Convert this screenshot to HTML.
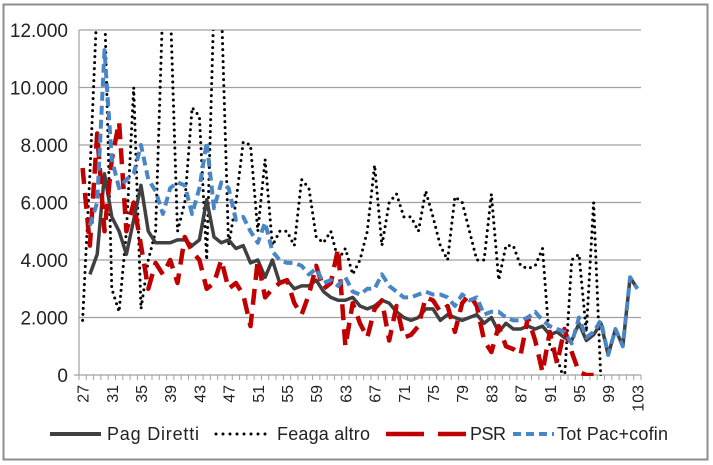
<!DOCTYPE html>
<html><head><meta charset="utf-8"><style>
html,body{margin:0;padding:0;background:#fff;}
svg{display:block;font-family:"Liberation Sans",sans-serif;}
</style></head><body>
<svg id="s" width="713" height="465" viewBox="0 0 713 465" xmlns="http://www.w3.org/2000/svg">
<rect x="0" y="0" width="713" height="465" fill="#fff"/>
<rect x="3.5" y="4.5" width="704" height="455" fill="none" stroke="#8c8c8c" stroke-width="2"/>
<defs><clipPath id="c"><rect x="79" y="30" width="562" height="346"/></clipPath></defs>
<g id="grid" stroke="#a0a0a0" stroke-width="1.2"></g>
<g id="ylab" font-size="19" fill="#222" text-anchor="end"></g>
<g id="xt" stroke="#a0a0a0" stroke-width="1"></g>
<g id="xlab" font-size="16" fill="#222"></g>
<g id="series" clip-path="url(#c)" fill="none" stroke-linejoin="round"></g>
<g font-size="18" fill="#222">
<line x1="50" y1="434" x2="101" y2="434" stroke="#404040" stroke-width="4"/>
<text x="107" y="440" textLength="92">Pag Diretti</text>
<line x1="216" y1="434" x2="268" y2="434" stroke="#000" stroke-width="3" stroke-dasharray="0,7" stroke-linecap="round"/>
<text x="277" y="440" textLength="93">Feaga altro</text>
<line x1="386" y1="434" x2="466" y2="434" stroke="#c00000" stroke-width="4.5" stroke-dasharray="38,14"/>
<text x="470" y="440" textLength="36">PSR</text>
<line x1="513" y1="434" x2="554" y2="434" stroke="#4a86c5" stroke-width="4" stroke-dasharray="8,5"/>
<text x="557" y="440" textLength="111">Tot Pac+cofin</text>
</g>
</svg>
<script>
var NS="http://www.w3.org/2000/svg";
function el(p,t,a,txt){var e=document.createElementNS(NS,t);for(var k in a)e.setAttribute(k,a[k]);if(txt!=null)e.textContent=txt;document.getElementById(p).appendChild(e);return e;}
var X0=79,X1=641,N=77,dx=(X1-X0)/N;
function Y(v){return 375-v/2000*57.5;}
function X(i){return X0+dx*(i+0.5);}
for(var v=0;v<=12000;v+=2000){
 var y=Y(v);
 if(v>0)el("grid","line",{x1:X0,x2:X1,y1:y,y2:y});
 el("ylab","text",{x:68,y:y+7},v==0?"0":(v/1000)+".000");
}
el("grid","line",{x1:X0,x2:X0,y1:30,y2:375});
el("grid","line",{x1:X0-5,x2:X1,y1:375,y2:375});
for(var i=0;i<=N;i++){var x=X0+dx*i;el("xt","line",{x1:x,x2:x,y1:375,y2:380});}
for(var i=0;i<N;i+=4){var x=X(i)+6,y=385;
 el("xlab","text",{x:x,y:y,transform:"rotate(-90 "+x+" "+y+")","text-anchor":"end"},String(27+i));}
var pag=[3500,4200,7000,5500,5000,4200,5400,6600,5000,4600,4600,4600,4700,4700,4500,4700,6100,4800,4600,4700,4400,4500,3900,4000,3400,4000,3200,3300,3000,3100,3100,3300,2900,2700,2600,2600,2700,2400,2300,2400,2600,2500,2200,2000,1900,2000,2300,2300,1900,2100,2000,1900,2000,2100,1800,2000,1500,1800,1600,1600,1700,1600,1700,1400,1500,1300,1200,1800,1200,1400,1800,700,1600,1000,3400,3000];
var fea=[1900,7000,13000,13000,3000,2200,5000,10000,2300,4000,5000,13000,13000,5000,6000,9300,9000,4000,13000,13000,4500,6000,8100,8000,5000,7500,4500,5000,5000,4500,6800,6500,4800,4600,5000,4000,4400,3500,4000,5000,7300,4500,6000,6300,5500,5500,5000,6400,5500,4500,4000,6200,6000,5000,4000,4000,6300,3300,4500,4500,3800,3700,3800,4400,1000,600,-200,4000,4200,1500,6000,-200];
var psr=[7200,4500,8400,5000,7500,8800,5000,6000,4500,3000,3900,3500,4000,3200,4800,4300,4000,3000,3200,4000,3000,3200,2800,1700,4000,2700,3000,3200,3300,2500,2100,2800,3800,3000,3200,4400,1000,2500,1800,1300,2300,2600,1200,2400,1300,1400,1700,2700,2600,2200,2400,1500,2500,2800,2400,1200,800,1700,1000,900,700,2000,1200,100,1500,400,1600,800,100,0,0];
var tot=[5200,6000,11300,7500,6500,6800,7000,8000,6800,6400,5600,6500,6700,6600,5600,6500,8100,5800,6700,6500,5400,5500,5000,4600,5300,4300,4000,3900,3900,3800,3500,3700,3200,3300,3100,3400,2900,2800,3000,3000,3500,3100,2900,2700,2700,2800,2900,2800,2800,2700,2400,2800,2600,2700,2100,2200,2200,2000,1900,1900,2000,2200,1900,1700,1600,1500,1100,2000,1300,1500,1900,700,1600,1000,3400,3000];
function pts(a,off){return a.map(function(v,i){return X(i+off).toFixed(1)+","+Y(v).toFixed(1);}).join(" ");}
el("series","polyline",{points:pts(fea,0),stroke:"#000","stroke-width":3,"stroke-dasharray":"0,6","stroke-linecap":"round"});
el("series","polyline",{points:pts(pag,N-pag.length),stroke:"#404040","stroke-width":3.5});
el("series","polyline",{points:pts(psr,0),stroke:"#c00000","stroke-width":4.5,"stroke-dasharray":"16,9"});
el("series","polyline",{points:pts(tot,N-tot.length),stroke:"#4a86c5","stroke-width":4,"stroke-dasharray":"9,5"});
</script>
</body></html>
